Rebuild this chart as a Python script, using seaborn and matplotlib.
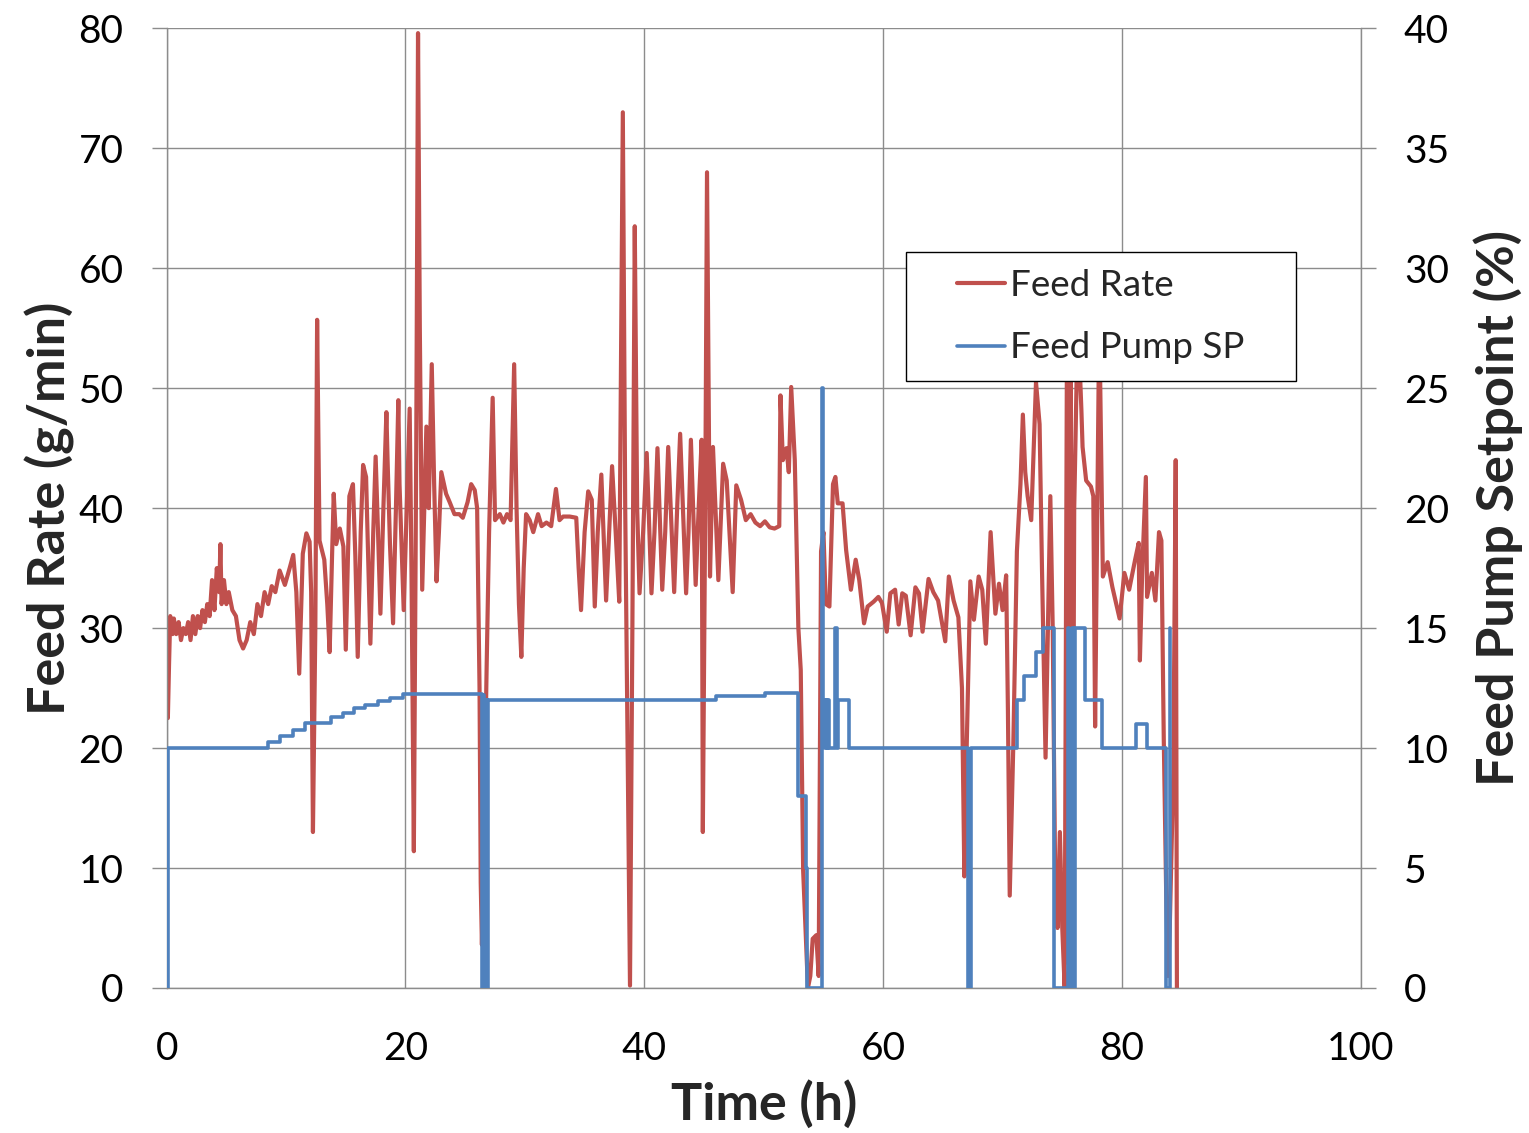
import numpy as np
import pandas as pd
import matplotlib
matplotlib.use("Agg")
import matplotlib.pyplot as plt
from matplotlib.patches import Rectangle
import seaborn as sns

# ---------------- data ----------------
rate_t = [0.0, 0.1, 0.2, 0.3, 0.4, 0.5, 0.6, 0.8, 1.0, 1.2, 1.4, 1.6, 1.8, 2.0, 2.2, 2.4, 2.6,
          2.8, 3.0, 3.2, 3.4, 3.6, 3.8, 4.0, 4.2, 4.4, 4.5, 4.6, 4.8, 5.0, 5.2, 5.5, 5.8, 6.1,
          6.4, 6.7, 7.0, 7.3, 7.6, 7.9, 8.2, 8.5, 8.8, 9.1, 9.46, 9.9, 10.3, 10.6, 10.86, 11.1,
          11.4, 11.7, 11.97, 12.1, 12.25, 12.45, 12.6, 12.8, 13.2, 13.45, 13.65, 13.85, 13.99,
          14.2, 14.5, 14.8, 15.0, 15.3, 15.6, 15.8, 16.0, 16.25, 16.45, 16.7, 16.9, 17.06, 17.3,
          17.5, 17.7, 17.9, 18.15, 18.4, 18.5, 18.7, 18.96, 19.2, 19.4, 19.5, 19.85, 20.1, 20.35,
          20.5, 20.7, 20.9, 21.05, 21.2, 21.4, 21.75, 21.95, 22.2, 22.4, 22.6, 22.8, 23.0, 23.4,
          23.7, 24.1, 24.5, 24.8, 25.2, 25.5, 25.8, 26.0, 26.2, 26.3, 26.4, 26.6, 26.8, 27.0,
          27.3, 27.5, 27.9, 28.2, 28.5, 28.8, 29.1, 29.3, 29.5, 29.7, 29.9, 30.1, 30.4, 30.7,
          31.1, 31.4, 31.8, 32.2, 32.6, 32.9, 33.2, 33.75, 34.3, 34.5, 34.7, 35.0, 35.3, 35.6,
          35.85, 36.1, 36.4, 36.8, 37.05, 37.3, 37.6, 37.9, 38.2, 38.4, 38.6, 38.8, 39.0, 39.2,
          39.4, 39.6, 39.9, 40.2, 40.6, 40.85, 41.1, 41.5, 41.75, 42.0, 42.5, 42.75, 43.0, 43.5,
          43.7, 43.9, 44.3, 44.55, 44.8, 44.9, 45.1, 45.25, 45.5, 45.75, 46.2, 46.6, 46.9, 47.4,
          47.7, 48.1, 48.5, 48.9, 49.3, 49.7, 50.1, 50.5, 50.9, 51.3, 51.4, 51.6, 51.9, 52.1,
          52.3, 52.6, 52.9, 53.1, 53.3, 53.5, 53.7, 53.9, 54.1, 54.4, 54.6, 54.8, 55.0, 55.2,
          55.5, 55.8, 56.0, 56.2, 56.6, 56.9, 57.3, 57.7, 58.0, 58.4, 58.7, 59.2, 59.6, 59.9,
          60.3, 60.6, 61.0, 61.3, 61.6, 61.9, 62.3, 62.7, 63.0, 63.3, 63.8, 64.2, 64.6, 65.2,
          65.5, 65.9, 66.3, 66.6, 66.8, 67.0, 67.3, 67.6, 68.0, 68.3, 68.6, 69.0, 69.4, 69.7,
          70.0, 70.3, 70.45, 70.6, 70.9, 71.2, 71.5, 71.7, 71.9, 72.1, 72.4, 72.8, 73.1, 73.3,
          73.6, 74.0, 74.2, 74.4, 74.6, 74.8, 75.0, 75.2, 75.4, 75.55, 75.7, 75.85, 76.0, 76.3,
          76.6, 76.7, 77.0, 77.4, 77.6, 77.75, 78.1, 78.4, 78.8, 79.2, 79.8, 80.2, 80.6, 81.1,
          81.4, 81.5, 81.7, 82.0, 82.1, 82.5, 82.8, 83.1, 83.3, 83.5, 83.7, 83.85, 84.0, 84.3,
          84.5, 84.6]
rate_v = [25.5, 22.5, 27, 31, 30, 29.5, 30.8, 29.5, 30.5, 29, 30, 29.5, 30.5, 29, 31, 29.5, 31,
          30, 31.5, 30.5, 32, 31, 34, 31.5, 35, 33, 37, 32, 34, 32, 33, 31.5, 31, 29,
          28.3, 29, 30.5, 29.5, 32, 31, 33, 32, 33.5, 33, 34.8, 33.6, 35, 36.1, 33, 26.2,
          36.2, 37.9, 37.2, 33, 13, 30, 55.7, 37.3, 35.7, 32, 28, 36, 41.2,
          37, 38.3, 36.8, 28.2, 41, 42, 36, 27.6, 38, 43.6, 42.6, 35, 28.7, 38,
          44.3, 38, 31.2, 40, 48, 44, 37, 30.4, 40, 49, 42, 31.5, 40, 48.3,
          35, 11.4, 45, 79.6, 55, 33.2, 46.8, 40, 52, 42, 33.9, 38, 43, 41.2,
          40.5, 39.5, 39.5, 39.2, 40.5, 42, 41.5, 40, 25, 8.8, 3.6, 15, 27, 38,
          49.2, 39, 39.5, 38.8, 39.5, 39, 52, 40, 32, 27.6, 35, 39.5, 39, 38,
          39.5, 38.5, 38.8, 38.5, 41.6, 39, 39.3, 39.3, 39.2, 35, 31.5, 38, 41.4, 40.7,
          31.8, 38, 42.8, 32.3, 38, 43.5, 38, 32.2, 73, 40, 20, 0.2, 30, 63.5,
          40, 32.9, 38, 44.6, 32.9, 38, 45, 33.2, 38, 45.1, 33, 40, 46.2, 32.9,
          38, 45.7, 33.6, 40, 45.7, 13, 40, 68, 34.3, 45.1, 34, 43.7, 42.3, 33,
          41.9, 40.7, 39, 39.5, 38.8, 38.5, 38.9, 38.4, 38.3, 38.5, 49.4, 44, 45, 43,
          50.1, 44, 30, 26.5, 9.8, 5, 0, 1, 4.1, 4.4, 1, 36.4, 38, 32,
          31.8, 42, 42.6, 40.4, 40.4, 36.5, 33.2, 35.7, 34, 30.4, 31.8, 32.2, 32.6, 32.1,
          29.7, 32.9, 33.2, 30.3, 32.9, 32.7, 29.4, 33.4, 32.9, 29.7, 34.1, 33, 32.3, 28.9,
          34.3, 32.3, 30.9, 25, 9.3, 20.3, 33.9, 30.7, 34.3, 33.2, 28.7, 38, 31.2, 33.7,
          31.5, 34.4, 23, 7.7, 20.3, 36.4, 42, 47.8, 43, 41, 39, 50.5, 47, 35,
          19.2, 41, 30, 9.8, 5, 13, 5, 0, 56, 2, 57, 0, 40, 56,
          48.2, 45.1, 42.3, 41.8, 41, 21.8, 56, 34.3, 35.5, 33.4, 30.8, 34.6, 33.2, 35.7,
          37.1, 27.3, 35, 42.6, 32.6, 34.6, 32.3, 38, 37.3, 20.7, 8, 1, 5, 18,
          44, 0]

sp_t = [0.0, 0.1, 8.5, 9.5, 10.6, 11.6, 13.8, 14.8, 15.7, 16.6, 17.7, 18.7, 19.8,
        26.4, 26.5, 26.55, 26.65, 26.7, 26.8, 26.85, 26.95, 27.0,
        46.0, 50.1, 52.9, 53.5, 53.65, 54.9, 55.0, 55.1, 55.2, 55.3, 55.4, 55.5,
        56.0, 56.1, 56.2, 57.1, 67.1, 67.35, 71.2, 71.8, 72.8, 73.4, 74.3,
        75.45, 75.6, 75.8, 75.95, 76.05, 76.9, 78.3, 81.2, 82.1, 83.7, 84.05]
sp_v = [0, 10, 10.25, 10.5, 10.75, 11.05, 11.3, 11.45, 11.65, 11.8, 11.95, 12.1, 12.25,
        0, 12.2, 0, 12, 0, 12, 0, 12, 12,
        12.15, 12.3, 8, 5, 0, 25, 12, 10, 12, 10, 12, 10,
        15, 10, 12, 10, 0, 10, 12, 13, 14, 15, 0,
        15, 0, 15, 0, 15, 12, 10, 11, 10, 0, 15]

x_ticks = [0, 20, 40, 60, 80, 100]
left_ticks = [0, 10, 20, 30, 40, 50, 60, 70, 80]
right_ticks = [0, 5, 10, 15, 20, 25, 30, 35, 40]

rate_df = pd.DataFrame({"Time": rate_t, "Rate": rate_v})
sp_df = pd.DataFrame({"Time": sp_t, "SP": sp_v})

# ---------------- style ----------------
sns.set_theme(style="white")
plt.rcParams["font.family"] = ["Lato", "DejaVu Sans"]

RED = "#C0504D"
BLUE = "#4F81BD"
GRID = "#8C8C8C"

fig = plt.figure(figsize=(15.29, 11.33), dpi=100)
ax = fig.add_axes([0.109, 0.128, 0.781, 0.847])
ax2 = ax.twinx()

sns.lineplot(data=rate_df, x="Time", y="Rate", ax=ax, color=RED, linewidth=3.0,
             estimator=None, sort=False, label="Feed Rate", legend=False)
sns.lineplot(data=sp_df, x="Time", y="SP", ax=ax2, color=BLUE, linewidth=2.6,
             estimator=None, sort=False, drawstyle="steps-post", label="Feed Pump SP",
             legend=False)

ax.set_xlim(0, 100)
ax.set_ylim(0, 80)
ax2.set_ylim(0, 40)
ax.set_xticks(x_ticks)
ax.set_yticks(left_ticks)
ax2.set_yticks(right_ticks)

ax.grid(True, color=GRID, linewidth=1.0)
ax2.grid(False)
ax.set_axisbelow(True)

for a in (ax, ax2):
    for s in a.spines.values():
        s.set_visible(False)
    a.tick_params(colors="black", labelsize=28, length=11, width=1, direction="out",
                  color=GRID)
for a, side in ((ax, "left"), (ax, "bottom"), (ax2, "right")):
    a.spines[side].set_visible(True)
    a.spines[side].set_color(GRID)
    a.spines[side].set_linewidth(1.0)
ax.tick_params(axis="y", pad=20)
ax.tick_params(axis="x", pad=20)
ax2.tick_params(axis="y", pad=20)

ax.set_xlabel("Time (h)", fontsize=37.5, fontweight="bold")
ax.set_ylabel("Feed Rate (g/min)", fontsize=37.5, fontweight="bold")
ax2.set_ylabel("Feed Pump Setpoint (%)", fontsize=37.5, fontweight="bold")
ax.xaxis.set_label_coords(0.5, -0.096)
ax.yaxis.set_label_coords(-0.077, 0.5)
ax2.yaxis.set_label_coords(1.094, 0.5)

# legend box (frame) and entries
frame = Rectangle((0.619, 0.633), 0.327, 0.134, transform=ax2.transAxes,
                  facecolor="white", edgecolor="black", linewidth=1.0, zorder=9)
ax2.add_patch(frame)
h1, l1 = ax.get_legend_handles_labels()
h2, l2 = ax2.get_legend_handles_labels()
leg = ax2.legend(h1 + h2, l1 + l2, loc="center left",
                 bbox_to_anchor=(0.6616, 0.6995), fontsize=26.5, frameon=False,
                 handlelength=1.3, handletextpad=0.15, borderpad=0.0,
                 labelspacing=0.8, borderaxespad=0)
leg.set_zorder(10)

fig.savefig("out.png", dpi=100)
